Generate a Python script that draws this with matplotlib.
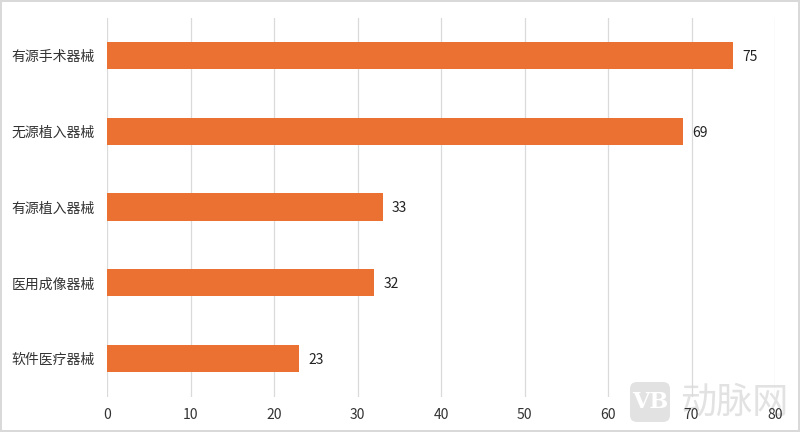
import matplotlib
matplotlib.use('Agg')
import matplotlib.pyplot as plt
from matplotlib.patches import FancyBboxPatch
from matplotlib.transforms import Affine2D

plt.rcParams['font.family'] = ['Noto Sans CJK SC', 'DejaVu Sans']

# data, top to bottom
categories = ['有源手术器械', '无源植入器械', '有源植入器械', '医用成像器械', '软件医疗器械']
values = [75, 69, 33, 32, 23]
x_ticks = [0, 10, 20, 30, 40, 50, 60, 70, 80]

fig = plt.figure(figsize=(8, 4.32), dpi=100)
ax = fig.add_axes([107 / 800, 1 - 396.5 / 432, (775 - 107) / 800, (396.5 - 17.5) / 432])
ax.patch.set_alpha(0)

y_pos = range(len(categories))
ax.barh(y_pos, values, height=0.36, color='#EB7132', zorder=3)
ax.set_ylim(4.5, -0.5)
ax.set_xlim(0, 80)
ax.set_yticks(list(y_pos))
ax.set_yticklabels(categories, fontsize=10, color='#404040', va='center_baseline')
ax.set_xticks(x_ticks)
ax.tick_params(axis='both', length=0, labelsize=10, labelcolor='#333333')
ax.tick_params(axis='y', pad=9)
ax.tick_params(axis='x', pad=8)

ax.grid(axis='x', color='#DADADA', linewidth=0.9, zorder=0)
for side in ['top', 'right', 'left', 'bottom']:
    ax.spines[side].set_visible(False)

for i, v in enumerate(values):
    ax.text(v + 1.1, i, str(v), va='center_baseline', ha='left', fontsize=10, color='#222222')

# thin frame around the picture
fig.patch.set_edgecolor('#D9D9D9')
fig.patch.set_linewidth(1.5)

# watermark, sits behind the axis labels (icon given in pixels from the top left)
icon = FancyBboxPatch((630, 382), 40, 40, boxstyle='round,pad=0,rounding_size=7',
                      fc='#E2E2E2', ec='none', zorder=-2)
icon.set_transform(Affine2D().scale(1, -1).translate(0, 432))
fig.add_artist(icon)
fig.text(650 / 800, 1 - 402 / 432, 'VB', fontsize=16, color='white', va='center', ha='center',
         fontweight='bold', family='DejaVu Serif', zorder=-1)
fig.text(680 / 800, 1 - 403 / 432, '动脉网', fontsize=26, color='#E2E2E2', va='center', ha='left', zorder=-1)

fig.savefig('out.png', dpi=100, edgecolor=fig.get_edgecolor())
